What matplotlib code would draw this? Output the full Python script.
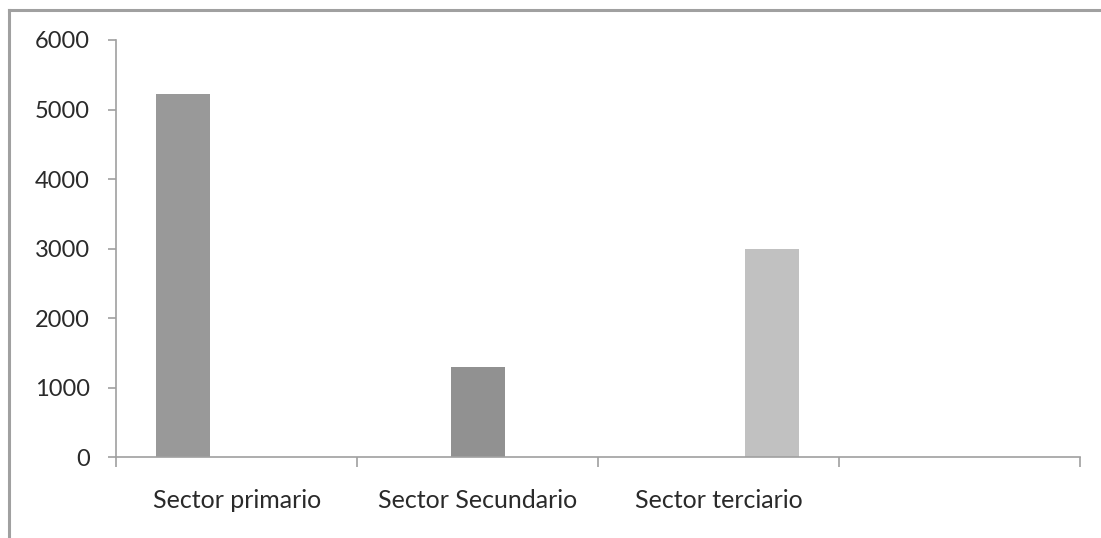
import matplotlib.pyplot as plt
from matplotlib.lines import Line2D
import numpy as np

categories = ['Sector primario', 'Sector Secundario', 'Sector terciario', '']
values = [5230, 1300, 3000]
colors = ['#999999', '#919191', '#c1c1c1']
yticks = [0, 1000, 2000, 3000, 4000, 5000, 6000]

plt.rcParams['font.family'] = ['Lato', 'DejaVu Sans']
grey = '#a0a0a0'

fig = plt.figure(figsize=(11.01, 5.38), dpi=100)
ax = fig.add_axes([0.1056, 0.15, 0.9809 - 0.1056, 0.7757])

w = 0.223
for i in range(len(values)):
    ax.bar(i + (i - 1) * w, values[i], width=w, color=colors[i], zorder=2)

ax.set_xlim(-0.5, len(categories) - 0.5)
ax.set_ylim(0, 6000)
ax.set_yticks(yticks)
ax.set_yticklabels([str(v) for v in yticks])

ax.set_xticks(np.arange(len(categories) + 1) - 0.5)
ax.set_xticklabels([])
ax.set_xticks(np.arange(len(categories)), minor=True)
ax.set_xticklabels(categories, minor=True)

for s in ['top', 'right']:
    ax.spines[s].set_visible(False)
for s in ['left', 'bottom']:
    ax.spines[s].set_color(grey)
    ax.spines[s].set_linewidth(1.2)

ax.tick_params(axis='y', length=6, color=grey, width=1.2, pad=13,
               labelsize=17, labelcolor='#2a2a2a')
ax.tick_params(axis='x', which='major', length=7, color=grey, width=1.2,
               direction='out')
ax.tick_params(axis='x', which='minor', length=0, pad=23, labelsize=18,
               labelcolor='#2a2a2a')

# outer chart frame (only left and top visible)
fig.add_artist(Line2D([8.5 / 1101, 8.5 / 1101], [0, 1 - 9.5 / 538],
                      transform=fig.transFigure, color=grey, lw=2.2))
fig.add_artist(Line2D([8.5 / 1101, 1], [1 - 9.5 / 538, 1 - 9.5 / 538],
                      transform=fig.transFigure, color=grey, lw=2.2))

fig.savefig('out.png', dpi=100)
